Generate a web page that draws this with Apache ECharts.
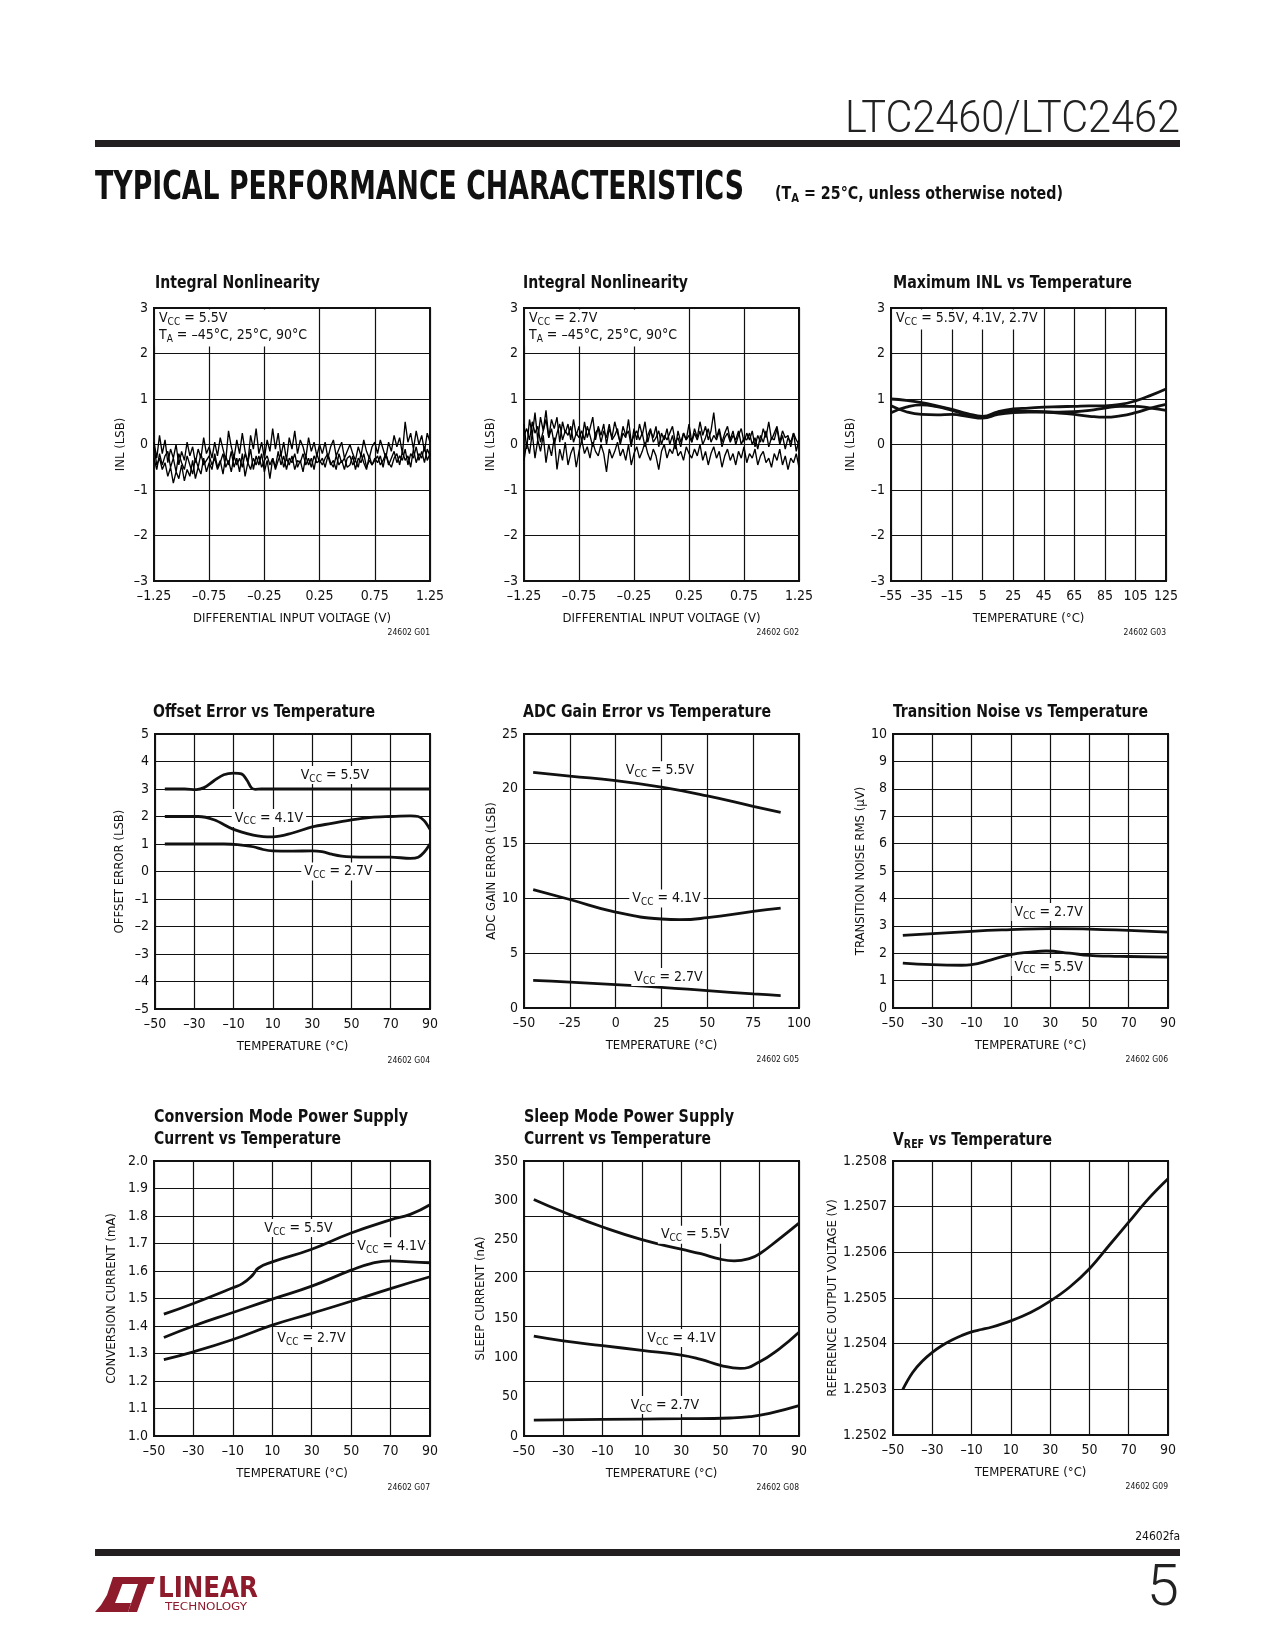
<!DOCTYPE html>
<html><head><meta charset="utf-8">
<script src="https://cdn.jsdelivr.net/npm/echarts@6/dist/echarts.min.js"></script>
<style>html,body{margin:0;padding:0;background:#fff}#c{width:1275px;height:1650px}</style>
</head><body><div id="c"></div>
<script>
// ---------------- DATA ----------------
const INL_X = [-1.25,-1.225,-1.2,-1.175,-1.15,-1.125,-1.1,-1.075,-1.05,-1.025,-1,-0.975,-0.95,-0.925,-0.9,-0.875,-0.85,-0.825,-0.8,-0.775,-0.75,-0.725,-0.7,-0.675,-0.65,-0.625,-0.6,-0.575,-0.55,-0.525,-0.5,-0.475,-0.45,-0.425,-0.4,-0.375,-0.35,-0.325,-0.3,-0.275,-0.25,-0.225,-0.2,-0.175,-0.15,-0.125,-0.1,-0.075,-0.05,-0.025,0,0.025,0.05,0.075,0.1,0.125,0.15,0.175,0.2,0.225,0.25,0.275,0.3,0.325,0.35,0.375,0.4,0.425,0.45,0.475,0.5,0.525,0.55,0.575,0.6,0.625,0.65,0.675,0.7,0.725,0.75,0.775,0.8,0.825,0.85,0.875,0.9,0.925,0.95,0.975,1,1.025,1.05,1.075,1.1,1.125,1.15,1.175,1.2,1.225,1.25];
// INL, VCC = 5.5V (three temperatures)
const INL55_A = [-0.05,-0.45,-0.30,-0.55,-0.40,-0.70,-0.50,-0.85,-0.60,-0.75,-0.45,-0.80,-0.55,-0.70,-0.35,-0.75,-0.50,-0.65,-0.30,-0.60,-0.40,
 -0.55,-0.20,-0.50,-0.35,-0.65,-0.25,-0.45,-0.15,-0.50,-0.30,-0.60,-0.20,-0.70,-0.40,-0.10,-0.55,-0.25,-0.45,-0.20,-0.60,
 -0.35,-0.75,-0.30,-0.50,-0.15,-0.45,-0.25,-0.55,-0.30,-0.40,-0.20,-0.50,-0.35,-0.60,-0.25,-0.45,-0.30,-0.55,-0.20,-0.40,
 -0.30,-0.50,-0.25,-0.45,-0.35,-0.55,-0.20,-0.40,-0.30,-0.50,-0.45,-0.25,-0.55,-0.30,-0.40,-0.20,-0.50,-0.35,-0.45,-0.30,
 -0.40,-0.25,-0.50,-0.20,-0.45,-0.30,-0.15,-0.40,-0.25,-0.35,-0.10,-0.45,-0.20,-0.30,-0.05,-0.35,-0.15,-0.40,-0.10,-0.25];
const INL55_B = [0.05,-0.30,0.20,-0.20,0.10,-0.40,-0.10,-0.30,0.00,-0.45,-0.15,-0.35,0.05,-0.25,-0.05,-0.40,-0.10,-0.30,0.15,-0.20,-0.05,
 -0.30,0.05,-0.25,0.15,-0.10,-0.35,0.30,-0.05,-0.30,0.10,-0.20,0.25,-0.15,-0.40,0.20,-0.10,0.35,-0.20,0.05,-0.30,
 0.10,-0.15,0.35,-0.10,0.25,-0.25,0.05,-0.35,0.15,-0.10,0.30,-0.20,0.10,-0.05,-0.30,0.15,-0.15,0.05,-0.25,0.00,
 -0.20,0.05,-0.30,-0.05,0.10,-0.25,-0.10,0.05,-0.30,-0.15,0.00,-0.20,-0.35,-0.05,-0.25,0.10,-0.15,-0.30,-0.05,0.05,
 -0.20,0.10,-0.10,-0.30,0.05,-0.15,0.20,-0.05,0.15,-0.20,0.50,0.05,0.25,-0.10,0.30,0.00,0.20,-0.15,0.25,0.05];
const INL55_C = [-0.30,-0.55,-0.20,-0.45,-0.25,-0.15,-0.50,-0.30,-0.60,-0.20,-0.40,-0.55,-0.25,-0.45,-0.65,-0.30,-0.50,-0.20,-0.45,-0.35,-0.25,
 -0.45,-0.30,-0.55,-0.40,-0.20,-0.50,-0.35,-0.60,-0.25,-0.45,-0.30,-0.50,-0.20,-0.40,-0.55,-0.30,-0.45,-0.25,-0.50,-0.35,
 -0.25,-0.45,-0.30,-0.55,-0.35,-0.20,-0.50,-0.30,-0.45,-0.25,-0.55,-0.35,-0.40,-0.20,-0.45,-0.30,-0.50,-0.25,-0.40,-0.35,
 -0.45,-0.30,-0.20,-0.40,-0.50,-0.25,-0.45,-0.35,-0.55,-0.30,-0.25,-0.45,-0.35,-0.50,-0.20,-0.40,-0.55,-0.25,-0.45,-0.35,
 -0.25,-0.45,-0.35,-0.20,-0.40,-0.50,-0.30,-0.20,-0.45,-0.15,-0.35,-0.25,-0.50,-0.10,-0.40,-0.20,-0.30,-0.05,-0.35,-0.20];
// INL, VCC = 2.7V
const INL27_A = [0.45,-0.10,0.55,0.20,0.70,0.10,0.60,0.30,0.75,0.15,0.55,0.35,0.60,0.05,0.50,0.25,0.45,0.10,0.55,0.20,0.40,
 0.05,0.50,0.15,0.35,0.60,0.10,0.40,0.20,0.45,0.00,0.35,0.15,0.50,0.25,0.05,0.40,0.20,0.30,-0.05,0.35,
 0.10,0.45,0.20,0.50,0.05,0.30,0.15,0.40,-0.05,0.25,0.10,0.35,0.00,0.20,-0.10,0.30,0.05,0.25,0.10,0.45,
 0.05,0.35,0.15,0.50,0.20,0.40,0.10,0.30,0.70,0.15,0.35,0.05,0.25,0.40,0.10,0.30,0.00,0.20,0.35,0.05,
 0.25,0.10,0.30,-0.05,0.20,0.05,0.35,0.15,0.50,0.10,0.25,0.40,0.05,0.30,0.15,0.20,-0.05,0.25,0.10,0.00];
const INL27_B = [-0.35,0.05,-0.20,0.25,-0.30,0.10,-0.15,0.20,-0.40,0.00,-0.25,0.15,-0.55,-0.10,-0.35,0.05,-0.45,-0.20,-0.05,-0.50,-0.15,
 0.10,-0.20,-0.05,-0.30,0.05,-0.15,-0.25,0.00,-0.20,-0.60,-0.10,-0.30,-0.15,0.05,-0.25,-0.10,-0.35,0.00,-0.45,-0.20,
 -0.05,-0.30,-0.15,0.05,-0.20,-0.35,-0.10,-0.25,-0.55,-0.15,0.00,-0.30,-0.10,-0.20,0.05,-0.25,-0.15,-0.35,-0.05,-0.20,
 -0.30,-0.10,-0.25,0.00,-0.35,-0.15,-0.45,-0.20,-0.05,-0.30,-0.15,-0.50,-0.25,-0.10,-0.35,-0.20,-0.45,-0.15,-0.30,-0.05,
 -0.40,-0.20,-0.30,-0.10,-0.45,-0.25,-0.15,-0.40,-0.30,-0.50,-0.20,-0.35,-0.10,-0.45,-0.25,-0.55,-0.30,-0.40,-0.20,-0.50];
const INL27_C = [0.20,0.35,0.10,0.50,0.25,0.40,0.05,0.30,0.55,0.15,0.35,0.00,0.25,0.45,0.10,0.30,0.20,0.40,0.05,0.25,0.15,
 0.30,0.10,0.40,0.20,-0.05,0.25,0.35,0.05,0.30,0.15,0.45,0.10,0.20,0.35,0.00,0.25,0.15,0.55,0.05,0.20,
 0.30,0.10,0.25,-0.05,0.20,0.35,0.05,0.15,0.30,0.00,0.20,0.10,0.25,0.40,0.05,0.15,-0.05,0.25,0.10,0.20,
 0.05,0.25,0.10,0.30,0.00,0.15,0.35,0.05,0.20,0.10,0.30,-0.05,0.15,0.25,0.05,0.20,0.10,0.30,0.00,0.15,
 0.10,0.25,0.00,0.15,-0.10,0.20,0.05,0.30,-0.05,0.15,0.10,0.35,0.00,0.20,-0.10,0.15,0.05,0.25,-0.15,0.10];
// Maximum INL vs temperature
const MAXINL_T = [-55,-45,-35,-25,-15,-5,5,15,25,35,45,55,65,75,85,95,105,115,125];
const MAXINL_1 = [1.00,0.97,0.92,0.85,0.77,0.68,0.62,0.72,0.78,0.80,0.82,0.83,0.84,0.85,0.85,0.88,0.96,1.08,1.22];
const MAXINL_2 = [0.70,0.82,0.87,0.83,0.75,0.66,0.60,0.70,0.74,0.73,0.72,0.71,0.72,0.75,0.80,0.84,0.84,0.80,0.75];
const MAXINL_3 = [0.85,0.72,0.66,0.65,0.66,0.62,0.58,0.66,0.70,0.71,0.71,0.69,0.66,0.62,0.60,0.63,0.70,0.80,0.88];
// Offset error vs temperature
const OFF55_T = [-45,-35,-29,-25,-20,-15,-10,-6,-3,-1,1,4,10,30,50,70,90];
const OFF55_V = [3.0,3.0,2.98,3.05,3.3,3.52,3.58,3.55,3.3,3.05,2.99,3.0,3.0,3.0,3.0,3.0,3.0];
const OFF41_T = [-45,-35,-28,-20,-10,0,5,10,20,30,40,50,60,70,80,84,87,90];
const OFF41_V = [2.0,2.0,2.0,1.88,1.53,1.32,1.27,1.26,1.4,1.62,1.75,1.88,1.97,2.0,2.02,2.0,1.85,1.53];
const OFF27_T = [-45,-30,-15,-8,0,5,10,20,30,35,40,45,50,60,70,80,84,87,90];
const OFF27_V = [1.0,1.0,1.0,0.98,0.9,0.8,0.75,0.74,0.75,0.72,0.63,0.56,0.53,0.52,0.52,0.48,0.52,0.7,1.0];
// ADC gain error vs temperature
const GAIN55_T = [-45,-25,0,25,50,75,90];
const GAIN55_V = [21.5,21.15,20.75,20.15,19.35,18.4,17.85];
const GAIN41_T = [-45,-25,0,25,35,50,75,90];
const GAIN41_V = [10.8,9.9,8.75,8.12,8.06,8.24,8.82,9.12];
const GAIN27_T = [-45,-25,0,25,50,75,90];
const GAIN27_V = [2.52,2.37,2.13,1.89,1.58,1.28,1.13];
// Transition noise vs temperature
const NOISE27_T = [-45,-10,10,30,50,70,90];
const NOISE27_V = [2.65,2.8,2.86,2.9,2.88,2.83,2.77];
const NOISE55_T = [-45,-30,-15,-10,0,10,20,28,40,50,60,70,90];
const NOISE55_V = [1.64,1.58,1.56,1.58,1.76,1.95,2.04,2.08,2.0,1.92,1.89,1.88,1.86];
// Conversion mode supply current
const CONV55_T = [-45,-30,-10,-5,0,3,10,30,50,70,80,90];
const CONV55_V = [1.443,1.482,1.539,1.555,1.585,1.611,1.633,1.679,1.738,1.786,1.806,1.841];
const CONV41_T = [-45,-30,-10,10,30,50,60,70,80,90];
const CONV41_V = [1.358,1.40,1.449,1.498,1.545,1.603,1.627,1.637,1.633,1.630];
const CONV27_T = [-45,-30,-10,10,30,50,70,90];
const CONV27_V = [1.278,1.306,1.351,1.403,1.446,1.49,1.536,1.579];
// Sleep mode supply current
const SLEEP55_T = [-45,-30,-10,10,30,40,50,57,65,70,80,90];
const SLEEP55_V = [301,285,266,250,237.7,232,225,223,226,232,251,271];
const SLEEP41_T = [-45,-30,-10,10,30,40,50,60,70,80,90];
const SLEEP41_V = [127,121,115,109,103,97.5,90,86,94.5,111,132];
const SLEEP27_T = [-45,-10,30,55,65,75,90];
const SLEEP27_V = [20.3,21.2,22,22.9,24.6,28.8,38.6];
// VREF vs temperature
const VREF_T = [-45,-40,-35,-30,-25,-20,-15,-10,-5,0,10,20,30,40,50,60,70,80,90];
const VREF_V = [1.25030,1.250337,1.250362,1.250381,1.250396,1.250408,1.250418,1.250426,1.250431,1.250436,1.25045,1.250468,1.250493,1.250524,1.250564,1.250615,1.250666,1.250717,1.250761];

// ---------------- STYLE ----------------
const INK = '#111';
const NARROW = '"Liberation Sans Narrow","Arial Narrow","DejaVu Sans Condensed","Liberation Sans",sans-serif';
const LIGHT = 'Roboto,"Liberation Sans",sans-serif';
const RED = '#8e1b2c';

const _ctx = document.createElement('canvas').getContext('2d');
function fit(text, font, target) { _ctx.font = font; return target / _ctx.measureText(text).width; }
function pairs(xs, ys) { const n = Math.min(xs.length, ys.length); const out = []; for (let i = 0; i < n; i++) out.push([xs[i], ys[i]]); return out; }
function numFmt(dec) { return v => { if (Math.abs(v) < 1e-12) v = 0; return (v < 0 ? '–' : '') + Math.abs(v).toFixed(dec); }; }
const vcc = v => '{n|V}{s|CC}{n| = ' + v + 'V}';

const RICH = {
  n: { fontFamily: NARROW, fontSize: 14, color: INK },
  s: { fontFamily: NARROW, fontSize: 10, color: INK, padding: [8, 0, 0, 0] }
};

const PANELS = [
  { grid: {left:154, top:308, width:276, height:273}, title: ['Integral Nonlinearity'], tx:155, ty:[283],
    x: {min:-1.25, max:1.25, interval:0.5, dec:2}, y: {min:-3, max:3, interval:1, dec:0},
    xName: 'DIFFERENTIAL INPUT VOLTAGE (V)', yName: 'INL (LSB)', yCenter: 35, id: '24602 G01',
    thin: true, series: [pairs(INL_X, INL55_A), pairs(INL_X, INL55_B), pairs(INL_X, INL55_C)] },
  { grid: {left:524, top:308, width:275, height:273}, title: ['Integral Nonlinearity'], tx:523, ty:[283],
    x: {min:-1.25, max:1.25, interval:0.5, dec:2}, y: {min:-3, max:3, interval:1, dec:0},
    xName: 'DIFFERENTIAL INPUT VOLTAGE (V)', yName: 'INL (LSB)', yCenter: 35, id: '24602 G02',
    thin: true, series: [pairs(INL_X, INL27_A), pairs(INL_X, INL27_B), pairs(INL_X, INL27_C)] },
  { grid: {left:891, top:308, width:275, height:273}, title: ['Maximum INL vs Temperature'], tx:893, ty:[283],
    x: {min:-55, max:125, interval:20, dec:0}, y: {min:-3, max:3, interval:1, dec:0},
    xName: 'TEMPERATURE (°C)', yName: 'INL (LSB)', yCenter: 42, id: '24602 G03', smooth: 0.5,
    series: [pairs(MAXINL_T, MAXINL_1), pairs(MAXINL_T, MAXINL_2), pairs(MAXINL_T, MAXINL_3)] },
  { grid: {left:155, top:734, width:275, height:275}, title: ['Offset Error vs Temperature'], tx:153, ty:[712],
    x: {min:-50, max:90, interval:20, dec:0}, y: {min:-5, max:5, interval:1, dec:0},
    xName: 'TEMPERATURE (°C)', yName: 'OFFSET ERROR (LSB)', yCenter: 37, id: '24602 G04', smooth: 0.35,
    series: [pairs(OFF55_T, OFF55_V), pairs(OFF41_T, OFF41_V), pairs(OFF27_T, OFF27_V)],
    labels: [[41.6, 3.51, vcc('5.5')], [8, 1.95, vcc('4.1')], [43.4, 0, vcc('2.7')]] },
  { grid: {left:524, top:734, width:275, height:274}, title: ['ADC Gain Error vs Temperature'], tx:523, ty:[712],
    x: {min:-50, max:100, interval:25, dec:0}, y: {min:0, max:25, interval:5, dec:0},
    xName: 'TEMPERATURE (°C)', yName: 'ADC GAIN ERROR (LSB)', yCenter: 34, id: '24602 G05', smooth: 0.5,
    series: [pairs(GAIN55_T, GAIN55_V), pairs(GAIN41_T, GAIN41_V), pairs(GAIN27_T, GAIN27_V)],
    labels: [[24.2, 21.7, vcc('5.5')], [27.7, 10, vcc('4.1')], [28.8, 2.83, vcc('2.7')]] },
  { grid: {left:893, top:734, width:275, height:274}, title: ['Transition Noise vs Temperature'], tx:893, ty:[712],
    x: {min:-50, max:90, interval:20, dec:0}, y: {min:0, max:10, interval:1, dec:0},
    xName: 'TEMPERATURE (°C)', yName: 'TRANSITION NOISE RMS (µV)', yCenter: 34, id: '24602 G06', smooth: 0.5,
    series: [pairs(NOISE27_T, NOISE27_V), pairs(NOISE55_T, NOISE55_V)],
    labels: [[29.2, 3.5, vcc('2.7')], [29.2, 1.5, vcc('5.5')]] },
  { grid: {left:154, top:1161, width:276, height:275}, title: ['Conversion Mode Power Supply', 'Current vs Temperature'], tx:154, ty:[1117, 1139],
    x: {min:-50, max:90, interval:20, dec:0}, y: {min:1, max:2, interval:0.1, dec:1},
    xName: 'TEMPERATURE (°C)', yName: 'CONVERSION CURRENT (mA)', yCenter: 44, id: '24602 G07', smooth: 0.5,
    series: [pairs(CONV55_T, CONV55_V), pairs(CONV41_T, CONV41_V), pairs(CONV27_T, CONV27_V)],
    labels: [[23.3, 1.756, vcc('5.5')], [70.5, 1.69, vcc('4.1')], [29.9, 1.356, vcc('2.7')]] },
  { grid: {left:524, top:1161, width:275, height:275}, title: ['Sleep Mode Power Supply', 'Current vs Temperature'], tx:524, ty:[1117, 1139],
    x: {min:-50, max:90, interval:20, dec:0}, y: {min:0, max:350, interval:50, dec:0, split:70},
    xName: 'TEMPERATURE (°C)', yName: 'SLEEP CURRENT (nA)', yCenter: 45, id: '24602 G08', smooth: 0.5,
    series: [pairs(SLEEP55_T, SLEEP55_V), pairs(SLEEP41_T, SLEEP41_V), pairs(SLEEP27_T, SLEEP27_V)],
    labels: [[37.1, 256, vcc('5.5')], [30.2, 124.7, vcc('4.1')], [21.8, 39.4, vcc('2.7')]] },
  { grid: {left:893, top:1161, width:275, height:274}, titleRich: '{b|V}{bs|REF}{b| vs Temperature}', tx:893, ty:[1140],
    x: {min:-50, max:90, interval:20, dec:0}, y: {min:1.2502, max:1.2508, interval:0.0001, dec:4},
    xName: 'TEMPERATURE (°C)', yName: 'REFERENCE OUTPUT VOLTAGE (V)', yCenter: 62, id: '24602 G09', smooth: 0.4,
    series: [pairs(VREF_T, VREF_V)] }
];

const TITLE_FONT = 'bold 18.5px ' + NARROW;
const TITLE_TARGET = {
  'Integral Nonlinearity': 165, 'Maximum INL vs Temperature': 239, 'Offset Error vs Temperature': 222,
  'ADC Gain Error vs Temperature': 248, 'Transition Noise vs Temperature': 255,
  'Conversion Mode Power Supply': 254, 'Current vs Temperature': 187, 'Sleep Mode Power Supply': 210
};
const TITLE_SCALE = fit('Integral Nonlinearity', TITLE_FONT, 165);

const option = { animation: false, backgroundColor: '#fff', grid: [], xAxis: [], yAxis: [], series: [], graphic: [] };
const G = option.graphic;

function gText(x, y, text, font, o) {
  o = o || {};
  const el = { type: 'text', x: x, y: y, silent: true, z: 20,
    style: { text: text, font: font, fill: o.fill || INK,
      textAlign: o.align || 'left', align: o.align || 'left',
      textVerticalAlign: o.valign || 'middle', verticalAlign: o.valign || 'middle' } };
  if (o.rich) el.style.rich = o.rich;
  if (o.scaleX) el.scaleX = o.scaleX;
  if (o.scaleY) el.scaleY = o.scaleY;
  return el;
}

let yIdx = 0;
PANELS.forEach((p, i) => {
  const g = p.grid;
  option.grid.push(Object.assign({ show: true, borderColor: INK, borderWidth: 2, backgroundColor: 'transparent',
    containLabel: false, outerBoundsMode: 'none' }, g));
  option.xAxis.push({ gridIndex: i, type: 'value', min: p.x.min, max: p.x.max, interval: p.x.interval,
    axisLine: { show: false }, axisTick: { show: false },
    splitLine: { show: true, lineStyle: { color: INK, width: 1.2 } },
    axisLabel: { color: INK, fontFamily: NARROW, fontSize: 14, margin: 8, formatter: numFmt(p.x.dec) },
    name: p.xName, nameLocation: 'middle', nameGap: 31,
    nameTextStyle: { color: INK, fontFamily: NARROW, fontSize: 13 } });
  const yMain = yIdx++;
  option.yAxis.push({ gridIndex: i, type: 'value', min: p.y.min, max: p.y.max, interval: p.y.interval,
    axisLine: { show: false }, axisTick: { show: false },
    splitLine: { show: !p.y.split, lineStyle: { color: INK, width: 1.2 } },
    axisLabel: { color: INK, fontFamily: NARROW, fontSize: 14, margin: 6, formatter: numFmt(p.y.dec) },
    name: p.yName, nameLocation: 'middle', nameGap: p.yCenter - 8,
    nameTextStyle: { color: INK, fontFamily: NARROW, fontSize: 13 } });
  if (p.y.split) {
    yIdx++;
    option.yAxis.push({ gridIndex: i, type: 'value', position: 'left', min: p.y.min, max: p.y.max, interval: p.y.split,
      axisLine: { show: false }, axisTick: { show: false }, axisLabel: { show: false },
      splitLine: { show: true, lineStyle: { color: INK, width: 1.2 } } });
  }
  p.series.forEach((d, k) => {
    const s = { type: 'line', xAxisIndex: i, yAxisIndex: yMain, data: d, symbol: 'none', showSymbol: false,
      silent: true, z: 3, smooth: p.thin ? false : p.smooth,
      lineStyle: p.thin ? { color: '#000', width: 1.35 } : { color: INK, width: 2.8 } };
    if (k === 0 && p.labels) {
      s.markPoint = { silent: true, animation: false, symbol: 'circle', symbolSize: 1,
        itemStyle: { color: 'rgba(0,0,0,0)' },
        label: { show: true, position: 'inside', backgroundColor: '#fff', padding: [0, 3, 0, 3], color: INK, rich: RICH },
        data: p.labels.map(l => ({ coord: [l[0], l[1]], value: 0, label: { formatter: l[2] } })) };
    }
    option.series.push(s);
  });
  // title
  if (p.title) {
    p.title.forEach((t, j) => G.push(gText(p.tx, p.ty[j], t, TITLE_FONT, { scaleX: fit(t, TITLE_FONT, TITLE_TARGET[t]) })));
  } else {
    G.push(gText(p.tx, p.ty[0], p.titleRich, TITLE_FONT, { scaleX: TITLE_SCALE, rich: {
      b: { fontFamily: NARROW, fontWeight: 'bold', fontSize: 18.5, color: INK },
      bs: { fontFamily: NARROW, fontWeight: 'bold', fontSize: 12.5, color: INK, padding: [9, 0, 0, 0] } } }));
  }
  // chart id
  G.push(gText(g.left + g.width, g.top + g.height + 52, p.id, '8.5px ' + NARROW, { align: 'right' }));
});

// annotation boxes (top-left corner of the first row)
const ANNOT = [
  { gi: 0, w: 142, h: 37, lines: ['{n|V}{s|CC}{n| = 5.5V}', '{n|T}{s|A}{n| = –45°C, 25°C, 90°C}'] },
  { gi: 1, w: 142, h: 37, lines: ['{n|V}{s|CC}{n| = 2.7V}', '{n|T}{s|A}{n| = –45°C, 25°C, 90°C}'] },
  { gi: 2, w: 131, h: 20, lines: ['{n|V}{s|CC}{n| = 5.5V, 4.1V, 2.7V}'] }
];
ANNOT.forEach(a => {
  const g = PANELS[a.gi].grid;
  G.push({ type: 'rect', silent: true, z: 1, shape: { x: g.left + 1.5, y: g.top + 1.5, width: a.w, height: a.h }, style: { fill: '#fff' } });
  a.lines.forEach((t, j) => G.push(gText(g.left + 5, g.top + 10 + j * 17, t, '14px ' + NARROW, { rich: RICH })));
});

// page header
const HDR_FONT = '300 45px ' + LIGHT;
G.push(gText(1180, 121, 'LTC2460/LTC2462', HDR_FONT, { align: 'right', fill: '#222', scaleX: fit('LTC2460/LTC2462', HDR_FONT, 335) }));
G.push({ type: 'rect', silent: true, shape: { x: 95, y: 140, width: 1085, height: 7 }, style: { fill: '#231f20' } });
const SEC_FONT = 'bold 39px ' + NARROW;
G.push(gText(95, 189, 'TYPICAL PERFORMANCE CHARACTERISTICS', SEC_FONT, { scaleX: fit('TYPICAL PERFORMANCE CHARACTERISTICS', SEC_FONT, 649) }));
const SUB_FONT = 'bold 17px ' + NARROW;
G.push(gText(775, 195, '{b|(T}{bs|A}{b| = 25°C, unless otherwise noted)}', SUB_FONT, {
  scaleX: fit('(TA = 25°C, unless otherwise noted)', SUB_FONT, 290),
  rich: { b: { fontFamily: NARROW, fontWeight: 'bold', fontSize: 17, color: INK },
          bs: { fontFamily: NARROW, fontWeight: 'bold', fontSize: 12, color: INK, padding: [8, 0, 0, 0] } } }));

// page footer
G.push(gText(1180, 1537, '24602fa', '12px ' + NARROW, { align: 'right' }));
G.push({ type: 'rect', silent: true, shape: { x: 95, y: 1549, width: 1085, height: 7 }, style: { fill: '#231f20' } });
G.push(gText(1179, 1590, '5', '300 58px ' + LIGHT, { align: 'right', fill: '#222' }));
// logo
G.push({ type: 'polygon', silent: true, shape: { points: [[113,1577],[125,1577],[119,1593],[115,1603],[131,1603],[128,1612],[95,1612],[101,1605],[107,1595]] }, style: { fill: RED } });
G.push({ type: 'polygon', silent: true, shape: { points: [[120,1577],[155,1577],[153,1584],[147,1584],[137,1612],[128,1612],[138,1584],[118,1584]] }, style: { fill: RED } });
G.push(gText(158, 1590, 'LINEAR', 'bold 28px ' + NARROW, { fill: RED, scaleX: fit('LINEAR', 'bold 28px ' + NARROW, 100) }));
G.push(gText(165, 1607, 'TECHNOLOGY', '11px ' + NARROW, { fill: RED, scaleX: fit('TECHNOLOGY', '11px ' + NARROW, 82) }));

const chart = echarts.init(document.getElementById('c'), null, { renderer: 'canvas', width: 1275, height: 1650 });
chart.setOption(option);
</script>
</body></html>
